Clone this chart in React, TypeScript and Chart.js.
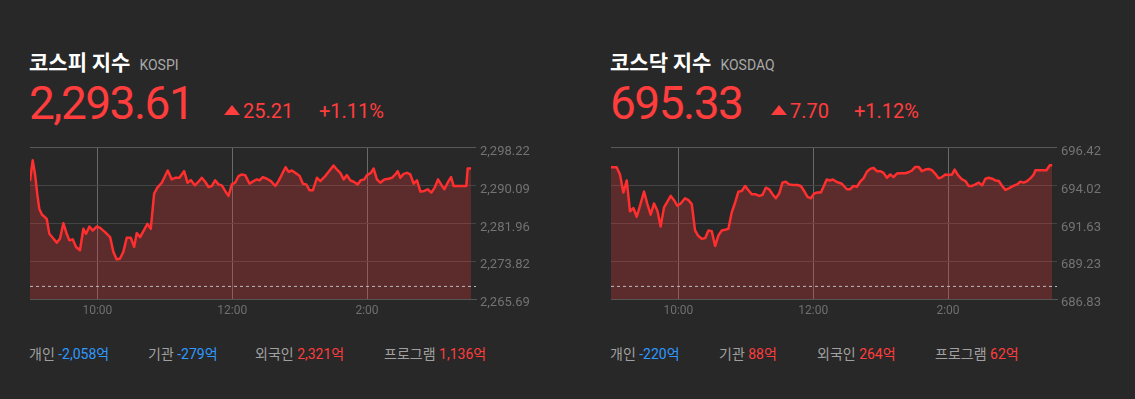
import React, { useEffect, useRef } from "react";
import { Chart, registerables } from "chart.js";

Chart.register(...registerables);

// ---- shared axis data ----
const xTickValues = [60, 180, 300]; // minutes after 9:00
const xTickLabels = ["10:00", "12:00", "2:00"];
const xMax = 397;

// ---- KOSPI ----
const kospiTimes = [
  0, 2.4, 4.5, 6.5, 8.3, 10.7, 13.4, 14.9, 17.2, 20.2, 23.8, 26.7, 29.7, 32.7, 35.0, 38.0, 41.0, 44.5, 47.5, 49.9,
  52.9, 55.8, 59.4, 62.4, 66.8, 71.3, 74.2, 77.2, 80.2, 83.1, 86.1, 89.7, 92.7, 95.0, 98.0, 101.6, 104.5, 107.5,
  110.5, 113.4, 117.3, 122.6, 126.2, 129.2, 133.0, 137.2, 140.2, 143.1, 146.7, 150.0, 152.9, 155.9, 158.9, 161.8,
  164.8, 167.8, 170.7, 173.7, 176.7, 179.7, 182.6, 185.6, 188.6, 191.5, 195.4, 199.0, 201.9, 204.3, 207.3, 210.8,
  214.4, 218.3, 221.2, 224.2, 227.5, 230.2, 233.1, 236.1, 240.0, 242.9, 245.9, 248.9, 251.8, 255.4, 258.4, 262.8,
  265.8, 270.2, 273.2, 276.2, 279.2, 282.1, 285.1, 288.1, 291.6, 294.6, 297.6, 300.0, 303.5, 305.9, 308.8, 311.8,
  315.4, 319.2, 322.2, 325.2, 327.3, 329.6, 332.6, 335.6, 338.5, 341.5, 344.5, 347.5, 351.0, 354.0, 357.3, 360.2,
  363.2, 365.9, 368.8, 371.8, 374.8, 377.1, 380.7, 384.6, 388.4, 389.6, 392.6,
];
const kospiValues = [
  2291.06, 2295.53, 2292.48, 2288.23, 2285.04, 2283.83, 2283.27, 2282.91, 2279.72, 2278.87, 2277.81, 2278.66,
  2281.99, 2279.72, 2278.31, 2278.52, 2276.89, 2276.18, 2280.79, 2279.72, 2281.28, 2280.43, 2281.28, 2281.0,
  2280.08, 2279.01, 2275.83, 2274.2, 2274.41, 2275.83, 2278.87, 2278.87, 2276.89, 2279.86, 2279.01, 2280.57,
  2281.85, 2280.79, 2288.37, 2289.64, 2290.71, 2293.33, 2291.42, 2291.77, 2291.77, 2293.19, 2290.71, 2291.27,
  2290.14, 2290.92, 2291.77, 2290.92, 2289.79, 2290.0, 2291.2, 2290.35, 2290.14, 2288.94, 2287.87, 2290.35,
  2290.71, 2292.13, 2292.48, 2292.34, 2290.5, 2291.06, 2291.42, 2291.2, 2291.91, 2291.56, 2291.06, 2290.0,
  2291.06, 2292.48, 2294.04, 2293.05, 2293.33, 2292.83, 2292.13, 2290.5, 2290.35, 2289.08, 2289.08, 2291.77,
  2291.06, 2292.13, 2293.05, 2294.39, 2293.54, 2292.83, 2291.42, 2292.34, 2291.2, 2290.92, 2290.35, 2291.27,
  2291.42, 2292.34, 2292.83, 2293.76, 2291.42, 2290.71, 2291.42, 2291.56, 2291.77, 2292.48, 2293.19, 2291.77,
  2292.62, 2292.83, 2292.48, 2290.5, 2291.2, 2288.79, 2288.94, 2289.29, 2288.58, 2289.64, 2291.42, 2290.35,
  2289.29, 2290.71, 2291.91, 2290.0, 2290.0, 2290.0, 2290.0, 2293.76, 2293.76,
];
const kospiYTicks = [2265.69, 2273.82, 2281.96, 2290.09, 2298.22];
const kospiYLabels = ["2,265.69", "2,273.82", "2,281.96", "2,290.09", "2,298.22"];
const kospiPrevClose = 2268.4;

// ---- KOSDAQ ----
const kosdaqTimes = [
  0, 5.0, 8.0, 11.0, 14.0, 16.9, 19.9, 22.9, 25.8, 29.4, 32.4, 35.3, 38.3, 41.3, 44.2, 47.2, 50.2, 53.2, 56.1, 59.1,
  62.1, 65.9, 68.9, 71.9, 74.8, 77.8, 80.8, 83.8, 86.7, 89.7, 92.7, 95.6, 98.6, 101.6, 104.5, 107.5, 110.5, 113.4,
  116.4, 119.4, 122.3, 125.3, 128.9, 131.9, 134.8, 137.8, 140.8, 143.8, 146.7, 149.7, 152.6, 155.6, 158.6, 162.4,
  166.0, 169.0, 171.9, 174.9, 177.9, 180.8, 183.8, 186.8, 189.5, 192.0, 194.8, 197.5, 201.0, 205.5, 209.9, 212.9,
  215.9, 218.9, 221.8, 224.8, 227.8, 230.7, 233.7, 236.7, 239.6, 242.6, 245.6, 248.6, 251.5, 254.5, 257.5, 261.9,
  264.9, 267.9, 270.8, 273.8, 276.8, 279.8, 282.7, 285.7, 288.7, 291.6, 294.6, 297.6, 300.6, 303.6, 305.9, 308.9,
  312.5, 315.5, 318.4, 321.4, 324.4, 327.3, 330.3, 333.3, 336.3, 339.2, 342.2, 345.2, 348.2, 351.1, 354.1, 358.0,
  361.5, 364.4, 367.4, 370.4, 373.3, 376.3, 377.8, 382.3, 387.6, 390.6, 392.7,
];
const kosdaqValues = [
  695.19, 695.19, 694.73, 693.58, 694.35, 692.39, 692.6, 692.05, 692.74, 693.64, 692.85, 692.18, 692.89, 692.43,
  691.43, 692.64, 693.01, 693.37, 693.1, 692.74, 692.89, 693.22, 693.1, 692.85, 691.18, 690.82, 690.65, 690.69,
  691.18, 691.13, 690.19, 690.86, 691.18, 691.22, 691.28, 692.33, 692.95, 693.64, 693.68, 694.0, 693.73, 693.47,
  693.47, 693.37, 693.43, 693.89, 693.79, 693.47, 693.22, 693.52, 694.21, 694.27, 694.1, 694.06, 694.06, 694.0,
  693.68, 693.31, 693.22, 693.52, 693.58, 693.58, 694.0, 694.41, 694.35, 694.41, 694.25, 694.14, 693.79, 693.79,
  694.0, 693.95, 694.27, 694.48, 694.9, 695.08, 695.15, 694.94, 694.94, 694.83, 694.52, 694.73, 694.56, 694.79,
  694.81, 694.81, 694.87, 694.98, 695.21, 695.21, 694.94, 695.04, 695.08, 695.0, 694.77, 694.48, 694.56, 694.73,
  694.69, 694.73, 695.04, 694.69, 694.41, 694.31, 694.0, 694.0, 694.1, 694.21, 694.04, 694.46, 694.52, 694.46,
  694.35, 694.31, 694.0, 693.75, 693.85, 694.0, 694.1, 694.27, 694.21, 694.31, 694.48, 694.73, 695.0, 695.0,
  695.0, 695.31, 695.31,
];
const kosdaqYTicks = [686.83, 689.23, 691.63, 694.02, 696.42];
const kosdaqYLabels = ["686.83", "689.23", "691.63", "694.02", "696.42"];
const kosdaqPrevClose = 687.63;

// ---- header / footer texts ----
const kospiHeader = { title: "코스피 지수", tag: "KOSPI", price: "2,293.61", change: "25.21", pct: "+1.11%" };
const kosdaqHeader = { title: "코스닥 지수", tag: "KOSDAQ", price: "695.33", change: "7.70", pct: "+1.12%" };
const flowLabels = ["개인", "기관", "외국인", "프로그램"];
const kospiFlows = ["-2,058억", "-279억", "2,321억", "1,136억"];
const kosdaqFlows = ["-220억", "88억", "264억", "62억"];

const BG = "#282828";
const RED = "#ff3d3d";
const BLUE = "#2e9aff";

function PriceChart(props: {
  times: number[];
  values: number[];
  yTicks: number[];
  yLabels: string[];
  prevClose: number;
}) {
  const ref = useRef<HTMLCanvasElement | null>(null);
  useEffect(() => {
    const { times, values, yTicks, yLabels, prevClose } = props;
    const points = times.map((t, i) => ({ x: t, y: values[i] }));
    const chart = new Chart(ref.current as HTMLCanvasElement, {
      type: "line",
      data: {
        datasets: [
          {
            data: [
              { x: 0, y: prevClose },
              { x: xMax, y: prevClose },
            ],
            borderColor: "#bdbdbd",
            borderWidth: 1,
            borderDash: [3, 3],
            pointRadius: 0,
            fill: false,
            order: 0,
          },
          {
            data: points,
            borderColor: "#ff2f2f",
            borderWidth: 2.5,
            backgroundColor: "rgba(248,50,50,0.25)",
            fill: "start",
            pointRadius: 0,
            tension: 0,
            borderJoinStyle: "round",
            order: 1,
          },
        ],
      },
      options: {
        animation: false,
        responsive: false,
        devicePixelRatio: 1,
        events: [],
        layout: { padding: { left: 10, top: 10, right: 0, bottom: 0 } },
        plugins: { legend: { display: false }, tooltip: { enabled: false } },
        scales: {
          x: {
            type: "linear",
            min: 0,
            max: xMax,
            afterBuildTicks: (s: any) => {
              s.ticks = xTickValues.map((v) => ({ value: v }));
            },
            afterFit: (s: any) => {
              s.height = 27;
            },
            grid: { color: "#6a6a6a", drawTicks: false, lineWidth: 1 },
            border: { display: true, color: "#555555" },
            ticks: {
              color: "#6f6f6f",
              font: { size: 12, family: "Roboto" },
              padding: 5,
              autoSkip: false,
              maxRotation: 0,
              callback: (_v: any, i: number) => xTickLabels[i],
            },
          },
          y: {
            type: "linear",
            position: "right",
            min: yTicks[0],
            max: yTicks[yTicks.length - 1],
            afterBuildTicks: (s: any) => {
              s.ticks = yTicks.map((v) => ({ value: v }));
            },
            afterFit: (s: any) => {
              s.width = 74;
            },
            grid: {
              color: (ctx: any) =>
                ctx.index === 0 || ctx.index === yTicks.length - 1 ? "#585858" : "#444444",
              drawTicks: false,
            },
            border: { display: false },
            ticks: {
              color: "#737373",
              font: { size: 13, family: "Roboto" },
              padding: 4,
              labelOffset: 4,
              autoSkip: false,
              callback: (_v: any, i: number) => yLabels[i],
            },
          },
        },
      },
    } as any);
    return () => chart.destroy();
  }, []);
  return <canvas ref={ref} width={530} height={190} style={{ display: "block", width: 530, height: 190 }} />;
}

function Panel(props: {
  left: number;
  header: { title: string; tag: string; price: string; change: string; pct: string };
  triLeft: number;
  changeLeft: number;
  pctLeft: number;
  times: number[];
  values: number[];
  yTicks: number[];
  yLabels: string[];
  prevClose: number;
  flows: string[];
  flowLefts: number[];
}) {
  const { left, header } = props;
  const abs = (x: number, y: number): React.CSSProperties => ({ position: "absolute", left: x, top: y, whiteSpace: "nowrap" });
  return (
    <>
      <div style={{ ...abs(left, 48.5), lineHeight: "24px" }}>
        <span style={{ fontFamily: "'Noto Sans CJK KR'", fontWeight: 700, fontSize: 21, color: "#ffffff" }}>{header.title}</span>
        <span style={{ fontFamily: "Roboto", fontSize: 14, color: "#a8a8a8", marginLeft: 9 }}>{header.tag}</span>
      </div>
      <div style={{ ...abs(left, 79.6), fontFamily: "Roboto", fontSize: 46, lineHeight: "46px", color: RED, letterSpacing: "-1.5px" }}>
        {header.price}
      </div>
      <div
        style={{
          ...abs(props.triLeft, 105),
          width: 0,
          height: 0,
          borderLeft: "8px solid transparent",
          borderRight: "8px solid transparent",
          borderBottom: `10px solid ${RED}`,
        }}
      />
      <div style={{ ...abs(props.changeLeft, 100.5), fontFamily: "Roboto", fontSize: 20, lineHeight: "20px", color: RED }}>
        {header.change}
      </div>
      <div style={{ ...abs(props.pctLeft, 100.5), fontFamily: "Roboto", fontSize: 20, lineHeight: "20px", color: RED }}>
        {header.pct}
      </div>
      <div style={{ position: "absolute", left: left - 9, top: 136 }}>
        <PriceChart
          times={props.times}
          values={props.values}
          yTicks={props.yTicks}
          yLabels={props.yLabels}
          prevClose={props.prevClose}
        />
      </div>
      {flowLabels.map((lab, i) => (
        <div key={lab} style={{ ...abs(props.flowLefts[i], 343), fontSize: 14, lineHeight: "20px", fontFamily: "Roboto, 'Noto Sans CJK KR'" }}>
          <span style={{ color: "#a0a0a0", fontFamily: "'Noto Sans CJK KR'" }}>{lab}</span>{" "}
          <span style={{ color: props.flows[i].startsWith("-") ? BLUE : RED }}>{props.flows[i]}</span>
        </div>
      ))}
    </>
  );
}

export default function App() {
  return (
    <div style={{ position: "fixed", left: 0, top: 0, width: 1135, height: 399, background: BG, overflow: "hidden" }}>
      <Panel
        left={29}
        header={kospiHeader}
        triLeft={224}
        changeLeft={243}
        pctLeft={319}
        times={kospiTimes}
        values={kospiValues}
        yTicks={kospiYTicks}
        yLabels={kospiYLabels}
        prevClose={kospiPrevClose}
        flows={kospiFlows}
        flowLefts={[29, 148, 255, 384]}
      />
      <Panel
        left={610}
        header={kosdaqHeader}
        triLeft={771}
        changeLeft={790}
        pctLeft={854}
        times={kosdaqTimes}
        values={kosdaqValues}
        yTicks={kosdaqYTicks}
        yLabels={kosdaqYLabels}
        prevClose={kosdaqPrevClose}
        flows={kosdaqFlows}
        flowLefts={[610, 719, 817, 935]}
      />
    </div>
  );
}
